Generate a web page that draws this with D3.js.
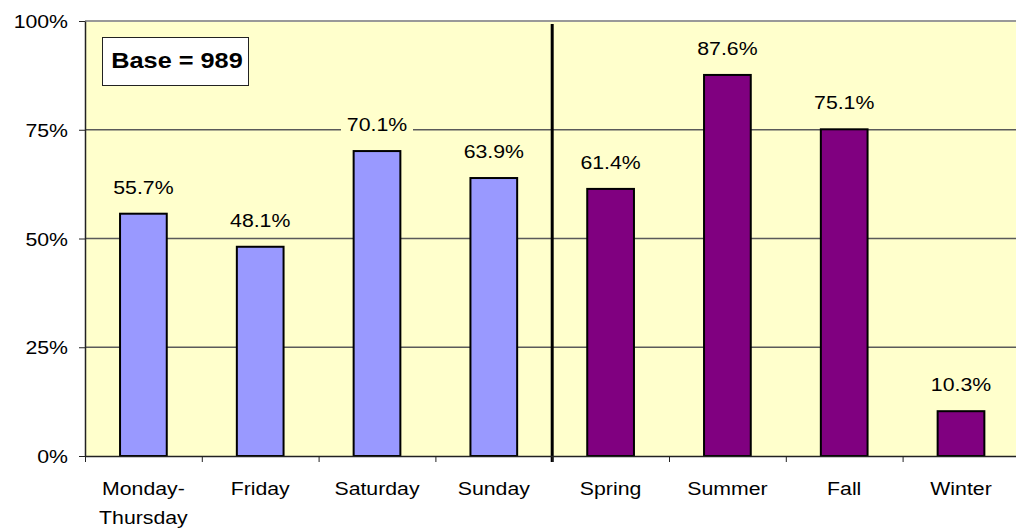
<!DOCTYPE html>
<html>
<head>
<meta charset="utf-8">
<script src="https://cdn.jsdelivr.net/npm/d3@7"></script>
<style>
  html, body { margin: 0; padding: 0; background: #fff; }
  text { font-family: Arial, "Liberation Sans", sans-serif; fill: #000; }
</style>
</head>
<body>
<div id="chart"></div>
<script>
const categories = ["Monday-Thursday", "Friday", "Saturday", "Sunday", "Spring", "Summer", "Fall", "Winter"];
const tickLabels = [["Monday-", "Thursday"], ["Friday"], ["Saturday"], ["Sunday"], ["Spring"], ["Summer"], ["Fall"], ["Winter"]];
const values = [55.7, 48.1, 70.1, 63.9, 61.4, 87.6, 75.1, 10.3];
const groups = ["day", "day", "day", "day", "season", "season", "season", "season"];
const yTicks = [0, 25, 50, 75, 100];
const baseText = "Base = 989";

const W = 1016, H = 529;
const plotL = 85, plotT = 21, plotB = 456;
const step = 116.8;
const plotR = plotL + step * categories.length;
const stretch = 1.15;

const svg = d3.select("#chart").append("svg")
  .attr("width", W)
  .attr("height", H);

const x = d3.scaleBand()
  .domain(categories)
  .range([plotL, plotR])
  .paddingInner(0.6)
  .paddingOuter(0.3);

const xIdx = d3.scaleLinear()
  .domain([0, categories.length])
  .range([plotL, plotR]);

const y = d3.scaleLinear()
  .domain([0, 100])
  .range([plotB, plotT]);

const color = d3.scaleOrdinal()
  .domain(["day", "season"])
  .range(["#9999FF", "#800080"]);

// plot area
svg.append("rect")
  .attr("x", plotL)
  .attr("y", plotT)
  .attr("width", plotR - plotL)
  .attr("height", plotB - plotT)
  .attr("fill", "#FFFFCC");

// gridlines
svg.selectAll(".grid")
  .data(yTicks.filter(d => d > 0 && d < 100))
  .join("line")
    .attr("class", "grid")
    .attr("x1", plotL)
    .attr("x2", plotR)
    .attr("y1", d => y(d))
    .attr("y2", d => y(d))
    .attr("stroke", "#5a5a5a")
    .attr("stroke-width", 1.3);

svg.append("line")
  .attr("x1", plotL)
  .attr("x2", plotR)
  .attr("y1", y(100))
  .attr("y2", y(100))
  .attr("stroke", "#999")
  .attr("stroke-width", 2);

// bars
svg.selectAll(".bar")
  .data(values)
  .join("rect")
    .attr("class", "bar")
    .attr("x", (d, i) => x(categories[i]))
    .attr("y", d => y(d))
    .attr("width", x.bandwidth())
    .attr("height", d => y(0) - y(d))
    .attr("fill", (d, i) => color(groups[i]))
    .attr("stroke", "#000")
    .attr("stroke-width", 2);

// divider between days and seasons
const splitAt = groups.indexOf("season");
svg.append("line")
  .attr("x1", xIdx(splitAt))
  .attr("x2", xIdx(splitAt))
  .attr("y1", 24)
  .attr("y2", 462)
  .attr("stroke", "#000")
  .attr("stroke-width", 3);

// y axis
const yAxis = svg.append("g")
  .attr("transform", `translate(${plotL},0)`)
  .call(d3.axisLeft(y)
    .tickValues(yTicks)
    .tickFormat(d => d + "%")
    .tickSize(6)
    .tickSizeOuter(0));
yAxis.select(".domain").attr("stroke", "#222").attr("stroke-width", 1.5);
yAxis.selectAll(".tick line").attr("stroke", "#222");
yAxis.selectAll(".tick text")
  .attr("x", -17 / stretch)
  .attr("dy", "0.36em")
  .attr("transform", `scale(${stretch},1)`)
  .style("font-size", "18.5px")
  .style("font-family", "Arial, 'Liberation Sans', sans-serif")
  .attr("fill", "#000");

// x axis
const xAxis = svg.append("g")
  .attr("transform", `translate(0,${plotB})`)
  .call(d3.axisBottom(xIdx)
    .tickValues(d3.range(categories.length + 1))
    .tickFormat("")
    .tickSize(6)
    .tickSizeOuter(0));
xAxis.select(".domain").attr("stroke", "#222").attr("stroke-width", 1.5);
xAxis.selectAll(".tick line").attr("stroke", "#222");

// category labels
const catLabels = svg.selectAll(".cat")
  .data(tickLabels)
  .join("text")
    .attr("class", "cat")
    .attr("text-anchor", "middle")
    .attr("transform", (d, i) => `translate(${x(categories[i]) + x.bandwidth() / 2},495) scale(${stretch},1)`)
    .style("font-size", "18.5px");
catLabels.selectAll("tspan")
  .data(d => d)
  .join("tspan")
    .attr("x", 0)
    .attr("y", (d, i) => i * 29)
    .text(d => d);

// value labels with plot-coloured boxes that hide gridlines
const vl = svg.selectAll(".vlab")
  .data(values)
  .join("g")
    .attr("class", "vlab")
    .attr("transform", (d, i) => `translate(${x(categories[i]) + x.bandwidth() / 2},${y(d) - 20})`);
vl.append("rect")
  .attr("x", -36)
  .attr("y", -18)
  .attr("width", 72)
  .attr("height", 23)
  .attr("fill", "#FFFFCC");
vl.append("text")
  .attr("text-anchor", "middle")
  .attr("transform", `scale(${stretch},1)`)
  .style("font-size", "18.5px")
  .text(d => d.toFixed(1) + "%");

// base box
svg.append("rect")
  .attr("x", 102.5)
  .attr("y", 37.5)
  .attr("width", 146)
  .attr("height", 48)
  .attr("fill", "#fff")
  .attr("stroke", "#222")
  .attr("stroke-width", 1);
svg.append("text")
  .attr("text-anchor", "middle")
  .attr("transform", `translate(177,68) scale(${stretch},1)`)
  .style("font-size", "22px")
  .style("font-weight", "bold")
  .text(baseText);
</script>
</body>
</html>
